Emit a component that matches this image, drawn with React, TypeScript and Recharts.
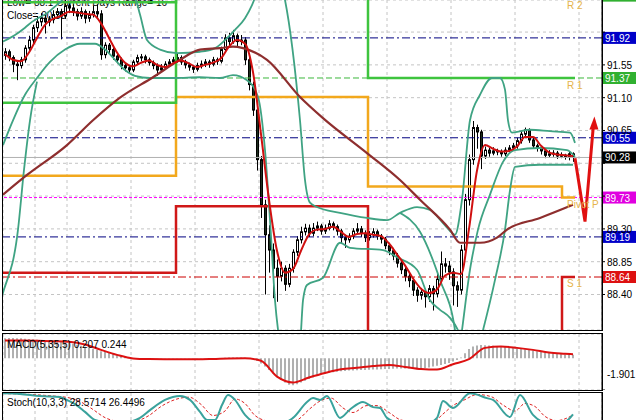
import React from "react";
import {
  ComposedChart,
  Bar,
  Line,
  XAxis,
  YAxis,
  CartesianGrid,
  ReferenceLine,
  ReferenceDot,
} from "recharts";

const FONT = "'Liberation Sans', Arial, sans-serif";

// ---- price bars (bar 0 = oldest), open of each bar is the previous close
const firstOpen = 91.68;
const closes = [
  91.73, 91.65, 91.56, 91.54, 91.62, 91.78, 91.89, 92.06, 92.14, 92.19,
  92.14, 92.17, 92.24, 92.28, 92.22, 92.36, 92.33, 92.28, 92.22, 92.28,
  92.19, 92.24, 92.28, 92.25, 91.69, 91.82, 91.76, 91.67, 91.62, 91.54,
  91.51, 91.48, 91.59, 91.65, 91.66, 91.62, 91.58, 91.54, 91.48, 91.51,
  91.56, 91.59, 91.62, 91.65, 91.59, 91.55, 91.52, 91.49, 91.54, 91.56,
  91.59, 91.56, 91.62, 91.6, 91.76, 91.92, 91.87, 91.95, 91.87, 91.89,
  91.62, 91.28, 90.93, 90.25, 89.63, 89.22, 89.01, 88.76, 88.65, 88.76,
  88.54, 88.76, 88.98, 89.15, 89.26, 89.31, 89.24, 89.31, 89.34, 89.27,
  89.31, 89.37, 89.33, 89.27, 89.18, 89.15, 89.2, 89.27, 89.3, 89.24,
  89.18, 89.22, 89.26, 89.2, 89.16, 89.07, 89.0, 88.93, 88.83, 88.74,
  88.65, 88.59, 88.46, 88.39, 88.43, 88.37, 88.48, 88.41, 88.61, 88.82,
  88.79, 88.71, 88.52, 88.46, 89.01, 89.7, 90.25, 90.69, 90.63, 90.3,
  90.38, 90.34, 90.37, 90.36, 90.33, 90.38, 90.41, 90.44, 90.51, 90.6,
  90.66, 90.52, 90.44, 90.41, 90.37, 90.31, 90.33, 90.34, 90.3, 90.31,
  90.29, 90.33, 90.28,
];
const highs = [
  91.78, 91.76, 91.68, 91.6, 91.66, 91.82, 91.95, 92.1, 92.22, 92.26,
  92.24, 92.22, 92.3, 92.33, 92.32, 92.44, 92.42, 92.38, 92.32, 92.34,
  92.31, 92.29, 92.36, 92.38, 92.3, 91.86, 91.85, 91.79, 91.71, 91.65,
  91.58, 91.55, 91.62, 91.69, 91.7, 91.69, 91.65, 91.61, 91.57, 91.56,
  91.6, 91.63, 91.66, 91.7, 91.68, 91.62, 91.58, 91.55, 91.58, 91.61,
  91.63, 91.62, 91.66, 91.65, 91.8, 91.97, 91.99, 92.03, 91.98, 91.96,
  91.93, 91.66, 91.32, 90.98, 90.3, 89.7, 89.35, 89.1, 88.88, 88.85,
  88.8, 88.82, 89.02, 89.2, 89.33, 89.37, 89.36, 89.38, 89.4, 89.37,
  89.36, 89.42, 89.4, 89.36, 89.3, 89.22, 89.24, 89.31, 89.38, 89.34,
  89.28, 89.27, 89.31, 89.29, 89.23, 89.19, 89.11, 89.04, 88.97, 88.88,
  88.79, 88.7, 88.63, 88.5, 88.49, 88.47, 88.53, 88.52, 88.68, 88.99,
  88.9, 88.86, 88.76, 88.58, 89.08, 89.78, 90.32, 90.78, 90.73, 90.66,
  90.43, 90.41, 90.42, 90.4, 90.39, 90.42, 90.45, 90.48, 90.55, 90.64,
  90.69, 90.68, 90.55, 90.47, 90.44, 90.41, 90.38, 90.38, 90.37, 90.35,
  90.33, 90.36, 90.35,
];
const lows = [
  91.62, 91.6, 91.45, 91.34, 91.5, 91.58, 91.74, 91.85, 92.0, 92.08,
  91.98, 92.08, 92.12, 92.2, 91.9, 92.18, 92.26, 92.22, 92.16, 92.18,
  92.12, 92.14, 92.2, 92.18, 91.62, 91.64, 91.7, 91.62, 91.57, 91.49,
  91.46, 91.44, 91.45, 91.55, 91.6, 91.57, 91.54, 91.49, 91.4, 91.45,
  91.48, 91.53, 91.56, 91.58, 91.55, 91.5, 91.47, 91.44, 91.46, 91.5,
  91.52, 91.51, 91.53, 91.55, 91.57, 91.73, 91.82, 91.84, 91.8, 91.82,
  91.55, 91.2, 90.85, 90.1, 89.45, 88.4, 88.7, 88.35, 88.3, 88.58,
  88.45, 88.5, 88.7, 88.93, 89.1, 89.21, 89.19, 89.2, 89.27, 89.22,
  89.23, 89.28, 89.28, 89.21, 89.1, 89.04, 89.11, 89.16, 89.24, 89.19,
  89.12, 89.14, 89.18, 89.15, 89.1, 89.02, 88.94, 88.87, 88.77, 88.68,
  88.58, 88.5, 88.38, 88.3, 88.33, 88.22, 88.3, 88.18, 88.36, 88.55,
  88.7, 88.6, 88.25, 88.23, 88.4, 88.95, 89.62, 90.18, 90.4, 90.12,
  90.26, 90.29, 90.31, 90.31, 90.29, 90.3, 90.35, 90.38, 90.4, 90.47,
  90.55, 90.48, 90.4, 90.36, 90.32, 90.27, 90.28, 90.29, 90.26, 90.27,
  90.25, 90.24, 90.22,
];

// short moving average, one value every 2 bars
const redMa = [
  91.7, 91.62, 91.6, 91.72, 91.92, 92.1, 92.18, 92.22, 92.28, 92.27,
  92.25, 92.24, 92.12, 91.92, 91.72, 91.58, 91.53, 91.58, 91.61, 91.55,
  91.52, 91.57, 91.61, 91.57, 91.52, 91.55, 91.58, 91.64, 91.8, 91.89,
  91.84, 91.45, 90.6, 89.7, 89.0, 88.7, 88.75, 89.0, 89.22, 89.29,
  89.3, 89.33, 89.26, 89.19, 89.23, 89.24, 89.22, 89.2, 89.1, 88.95,
  88.8, 88.62, 88.48, 88.42, 88.47, 88.66, 88.7, 88.68, 89.3, 90.1,
  90.45, 90.4, 90.36, 90.37, 90.43, 90.56, 90.56, 90.44, 90.35, 90.32,
  90.31, 90.3,
];

// band curves, [bar, price]
const bandUpper = [
  [-0.5, 91.87], [2.5, 91.96], [5, 92.06], [6.75, 92.14], [10.5, 92.26],
  [13.75, 92.41], [17.5, 92.58], [23.75, 92.65], [30, 92.58], [32.5, 92.47],
  [33.75, 92.24], [35.5, 91.89], [38.75, 91.76], [43, 91.71], [48.75, 91.73],
  [52.5, 91.78], [55, 91.89], [57.5, 92.03], [60, 92.19], [61.75, 92.37],
  [63.25, 92.58], [66.25, 93.0], [68.75, 92.72], [70, 92.44], [73.75, 90.79],
  [75, 89.97], [76.25, 89.66], [78, 89.6], [83.75, 89.52], [90.5, 89.45],
  [95.5, 89.42], [98.75, 89.52], [103, 89.6], [106.25, 89.56], [110, 89.35],
  [112.5, 89.22], [114.25, 89.7], [116.25, 90.79], [118.75, 91.14],
  [121.75, 91.37], [123.75, 91.37], [125, 91.21], [125.75, 90.79],
  [126.75, 90.62], [131.25, 90.66], [136.25, 90.64], [141.25, 90.62],
  [142.5, 90.48],
];
const bandLower = [
  [-0.5, 90.45], [2, 90.79], [5, 91.14], [8, 91.37], [11.25, 91.59],
  [15, 91.76], [18.75, 91.84], [22.5, 91.84], [25, 91.76], [27.5, 91.62],
  [30, 91.48], [32.5, 91.4], [36.25, 91.37], [42.5, 91.37], [48.75, 91.38],
  [53.75, 91.37], [57, 91.41], [60.5, 91.34], [63.25, 91.11], [65, 90.38],
  [66.25, 89.42], [67.5, 88.32], [68.75, 87.71], [71.25, 87.23],
  [73.75, 87.71], [74.5, 88.32], [75.5, 88.53], [79.5, 88.63], [83.75, 89.11],
  [86.25, 89.04], [94.5, 89.01], [98, 88.91], [103, 88.74], [106.25, 88.32],
  [108.75, 88.19], [111.25, 88.08], [113.25, 87.91], [115, 87.64],
  [117.5, 87.5], [119.5, 87.91], [122.5, 88.6], [125, 89.29], [126.25, 89.83],
  [127.5, 90.15], [133.75, 90.18], [142, 90.18],
];
const bandOuterLeft = [
  [-2.5, 87.91], [-1.25, 88.26], [3.25, 89.29], [4.75, 90.11], [6.25, 90.79],
  [8, 91.32],
];
const bandOuterRight = [
  [98.75, 89.52], [103.75, 89.26], [108.75, 88.6], [112.5, 87.91],
  [113.25, 87.5], [114.25, 87.91], [116.25, 88.74], [118.25, 89.29],
  [121.25, 89.77], [124.5, 90.22], [127.5, 90.38], [133.75, 90.41],
  [140.5, 90.38], [142.5, 90.29],
];

// long moving average, [bar, price]
const longMa = [
  [-0.5, 89.77], [5.5, 90.04], [15.5, 90.45], [22, 90.79], [28.75, 91.1],
  [37, 91.38], [43.75, 91.62], [48.75, 91.76], [53.75, 91.78], [57, 91.8],
  [59.5, 91.78], [65.5, 91.62], [73.75, 91.11], [79.5, 90.82], [90.5, 90.34],
  [98.75, 89.97], [103.75, 89.7], [111.25, 89.29], [113.75, 89.11],
  [118.75, 89.11], [123, 89.18], [125.5, 89.29], [133.75, 89.45], [142, 89.63],
];

// daily pivot levels
const dayStarts = [-0.5, 42.75, 90.75, 139.25];
const lastBar = 142.5;
const pivotP = [90.03, 91.11, 89.88, 89.73];
const pivotR1 = [91.03, 92.8, 91.37, 91.37];
const pivotR2 = [92.41, 93.4, 92.5, 92.5];
const pivotS1 = [88.7, 89.61, 87.4, 88.64];

// horizontal levels with price boxes
const levelPrices = [91.92, 91.37, 90.55, 90.28, 89.73, 89.19, 88.64];
const priceTicks = [87.95, 88.4, 88.85, 89.3, 89.75, 90.2, 90.65, 91.1, 91.55, 92.0];
const gridBars = [
  7.5, 15.5, 23.5, 31.5, 39.5, 47.5, 55.5, 63.5, 71.5, 79.5, 87.5, 95.5,
  103.5, 111.5, 119.5, 127.5, 135.5, 143.5,
];

// projected path
const forecast = [[142.5, 90.27], [145, 89.4], [147.1, 90.72]];

// MACD(5,35,5)
const macdHist = [
  1.2, 1.21, 1.21, 1.2, 1.19, 1.17, 1.15, 1.13, 1.11, 1.09,
  1.07, 1.05, 1.03, 1.01, 0.98, 0.95, 0.91, 0.86, 0.81, 0.75,
  0.69, 0.63, 0.57, 0.51, 0.42, 0.37, 0.31, 0.25, 0.19, 0.13,
  0.08, 0.04, 0.02, 0.01, 0.01, 0.0, 0.0, -0.01, -0.01, -0.01,
  -0.01, -0.02, -0.02, -0.01, -0.01, -0.01, -0.02, -0.02, -0.02, -0.01,
  -0.01, 0.0, 0.0, 0.01, 0.02, 0.03, 0.04, 0.04, 0.05, 0.04,
  0.03, 0.01, -0.05, -0.16, -0.32, -0.5, -0.7, -0.92, -1.12, -1.3,
  -1.45, -1.58, -1.62, -1.55, -1.45, -1.35, -1.25, -1.15, -1.05, -0.97,
  -0.92, -0.88, -0.84, -0.81, -0.78, -0.76, -0.74, -0.73, -0.72, -0.71,
  -0.7, -0.69, -0.68, -0.67, -0.66, -0.65, -0.64, -0.63, -0.62, -0.62,
  -0.61, -0.61, -0.61, -0.6, -0.6, -0.58, -0.55, -0.5, -0.45, -0.4,
  -0.34, -0.28, -0.2, -0.1, 0.05, 0.3, 0.55, 0.7, 0.76, 0.79,
  0.78, 0.76, 0.74, 0.72, 0.7, 0.68, 0.65, 0.62, 0.59, 0.56,
  0.53, 0.5, 0.46, 0.42, 0.38, 0.35, 0.32, 0.29, 0.27, 0.25,
  0.23, 0.22, 0.21,
];
const macdSignal = [
  [0, 1.06], [4, 1.06], [8, 1.05], [12, 1.02], [16, 0.98], [20, 0.82],
  [24, 0.5], [28, 0.2], [32, -0.01], [36, -0.05], [40, -0.06], [44, -0.06],
  [48, -0.06], [52, -0.04], [56, -0.01], [60, 0.0], [64, -0.15], [68, -1.1],
  [72, -1.45], [76, -1.15], [80, -0.88], [84, -0.66], [88, -0.57], [92, -0.47],
  [96, -0.4], [100, -0.52], [104, -0.65], [108, -0.68], [112, -0.36],
  [116, -0.05], [120, 0.62], [124, 0.7], [128, 0.62], [132, 0.5], [136, 0.34],
  [140, 0.27], [142, 0.24],
];
const macdTicks = [1.45, 0, -1.901];

// Stochastic(10,3,3), [bar, value]
const stochMain = [
  [-0.5, 99], [3.75, 97], [8.75, 90], [13.75, 87], [15, 80], [17.5, 63],
  [20, 37], [22.5, 10], [26.25, 2], [31.25, 5], [33.75, 17], [36.25, 43],
  [40, 77], [43.75, 90], [46.25, 77], [48.75, 37], [50.5, 10], [52.5, 10],
  [54.25, 60], [55.75, 93], [57.5, 77], [60, 27], [62.5, 3], [70, 3], [72, 17],
  [75.5, 70], [77, 83], [78.75, 77], [80.5, 90], [83.75, 17], [86.25, 45],
  [89.5, 70], [92, 53], [93.75, 50], [95.5, 17], [98.25, 3], [106.25, 3],
  [108, 17], [109.5, 73], [112, 50], [116.25, 99], [120.5, 83], [122, 77],
  [126.25, 20], [128.75, 93], [132, 27], [135, 3], [140, 5], [142, 28.57],
];
const stochSignal = [
  [-0.5, 98], [5, 96], [11, 91], [16, 84], [19, 70], [22, 45], [25, 18],
  [29, 5], [33, 8], [36, 25], [39, 55], [43, 80], [46, 86], [49, 62], [52, 25],
  [55, 40], [57.5, 80], [60, 65], [62.5, 25], [66, 6], [70, 3], [73, 10],
  [76, 45], [79, 75], [81.5, 83], [84.5, 50], [87, 35], [90.5, 58], [93, 58],
  [96, 35], [99, 10], [103, 3], [107, 4], [109.5, 30], [112, 58], [115, 78],
  [118, 95], [121.5, 88], [124.5, 60], [127.5, 40], [130, 65], [132.5, 55],
  [135, 22], [138, 8], [142, 26.45],
];
const stochTicks = [100, 80];

// ---- tables for the library
const candles = closes.map((c, i) => ({
  i,
  o: i === 0 ? firstOpen : closes[i - 1],
  h: highs[i],
  l: lows[i],
  c,
}));
const rows = (pts: number[][]) => pts.map(([i, v]) => ({ i, v }));
const redMaRows = redMa.map((v, k) => ({ i: k * 2, v }));
const stepRows = (levels: number[]) =>
  levels.flatMap((v, d) => [
    { i: dayStarts[d], v },
    { i: d + 1 < dayStarts.length ? dayStarts[d + 1] : lastBar, v },
  ]);
const macdRows = macdHist.map((h, i) => ({ i, h }));

const X_DOMAIN: [number, number] = [-0.5, 149.25];
const TEAL = "#3fa383";

const levelStyle = [
  { stroke: "#000080", dash: "8 3 2 3", box: "#0000c8" },
  { stroke: "#3cb83c", dash: "6 3", box: "#30b030" },
  { stroke: "#000080", dash: "8 3 2 3", box: "#0000c8" },
  { stroke: "#b0b0b0", dash: undefined, box: "#000000" },
  { stroke: "#ff00ff", dash: "3 2", box: "#e000e0" },
  { stroke: "#000080", dash: "8 3 2 3", box: "#0000c8" },
  { stroke: "#cc0000", dash: "8 3 2 3", box: "#dd1010" },
];

const Candle = (props: any) => {
  const { x, y, width, height, payload } = props;
  if (!payload || x == null) return <g />;
  const { o, h, l, c } = payload;
  const top = Math.min(y, y + height);
  const span = Math.abs(height);
  const k = h > l ? span / (h - l) : 0;
  const cx = Math.round(x + width / 2) + 0.5;
  const yO = top + (h - o) * k;
  const yC = top + (h - c) * k;
  const bTop = Math.min(yO, yC);
  const bH = Math.max(Math.abs(yC - yO), 1);
  const up = c >= o;
  return (
    <g>
      <line x1={cx} x2={cx} y1={top} y2={top + span} stroke="#000" strokeWidth={1} />
      <rect
        x={cx - 1}
        y={bTop}
        width={2}
        height={bH}
        fill={up ? "#ffffff" : "#1c2e1c"}
        stroke="#000"
        strokeWidth={1}
      />
    </g>
  );
};

const PriceBox = (props: any) => {
  const { viewBox, price, bg } = props;
  if (!viewBox) return null;
  const x = viewBox.x + viewBox.width + 1;
  const y = viewBox.y;
  return (
    <g>
      <rect x={x} y={y - 6} width={33} height={12} fill={bg} />
      <text x={x + 2} y={y + 4} fill="#fff" fontSize={10} fontFamily={FONT}>
        {price.toFixed(2)}
      </text>
    </g>
  );
};

const PivotName = (props: any) => {
  const { viewBox, text, dy } = props;
  if (!viewBox) return null;
  return (
    <text x={viewBox.x} y={viewBox.y + dy} fill="#e6b44a" fontSize={10} fontFamily={FONT}>
      {text}
    </text>
  );
};

const ArrowHead = (props: any) => {
  const { cx, cy, index } = props;
  if (index !== forecast.length - 1 || cx == null) return <g key={`f${index}`} />;
  return (
    <polygon
      key="head"
      points={`${cx + 1},${cy - 9} ${cx - 4},${cy + 4} ${cx + 5},${cy + 4}`}
      fill="#e01010"
    />
  );
};

const PriceTick = (props: any) => {
  const { x, y, payload } = props;
  const v = payload.value;
  if (levelPrices.some((l) => Math.abs(l - v) < 0.09)) return <g />;
  return (
    <text x={x} y={y + 4} fontSize={10} fontFamily={FONT} fill="#000">
      {v.toFixed(2)}
    </text>
  );
};

const MacdTick = (props: any) => {
  const { x, y, payload } = props;
  const v = payload.value;
  const dy = v > 1 ? 10 : v < -1 ? -3 : 4;
  return (
    <text x={x} y={y + dy} fontSize={10} fontFamily={FONT} fill="#000">
      {v === 0 ? "0.00" : String(v)}
    </text>
  );
};

const StochTick = (props: any) => {
  const { x, y, payload } = props;
  const dy = payload.value === 100 ? 10 : 4;
  return (
    <text x={x} y={y + dy} fontSize={10} fontFamily={FONT} fill="#000">
      {payload.value}
    </text>
  );
};

const band = (pts: number[][], key: string) => (
  <Line
    key={key}
    data={rows(pts)}
    dataKey="v"
    type="monotone"
    stroke={TEAL}
    strokeWidth={1.8}
    dot={false}
    activeDot={false}
    isAnimationActive={false}
  />
);

const pivotLine = (levels: number[], color: string, key: string) => (
  <Line
    key={key}
    data={stepRows(levels)}
    dataKey="v"
    type="linear"
    stroke={color}
    strokeWidth={2.5}
    dot={false}
    activeDot={false}
    isAnimationActive={false}
  />
);

const frame = (top: number, height: number): React.CSSProperties => ({
  position: "absolute",
  left: 2,
  top,
  width: 601,
  height,
  border: "1px solid #000",
  boxSizing: "border-box",
  pointerEvents: "none",
});

export default function App() {
  return (
    <div
      style={{
        position: "relative",
        width: 640,
        height: 420,
        overflow: "hidden",
        background: "#fff",
        fontFamily: FONT,
      }}
    >
      <style>{"body{margin:0}"}</style>

      {/* info text sits under the candles */}
      <svg width={640} height={40} style={{ position: "absolute", left: 0, top: 0 }}>
        <text x={7} y={6} fontSize={10} fontFamily={FONT} fill="#000">
          Low= 88.1 Current Days Range= 16
        </text>
        <text x={7} y={19} fontSize={10} fontFamily={FONT} fill="#000">
          Close= 90.33
        </text>
      </svg>

      {/* main price panel */}
      <div style={{ position: "absolute", left: 0, top: 0 }}>
        <ComposedChart
          width={640}
          height={330}
          data={candles}
          margin={{ top: 0, right: 0, bottom: 0, left: 3 }}
        >
          <CartesianGrid stroke="#c4c4c4" strokeDasharray="3 3" />
          <XAxis
            type="number"
            dataKey="i"
            domain={X_DOMAIN}
            ticks={gridBars}
            allowDataOverflow
            hide
          />
          <YAxis
            orientation="right"
            type="number"
            domain={[87.913, 92.44]}
            ticks={priceTicks}
            allowDataOverflow
            width={38}
            tickSize={3}
            tickMargin={2}
            stroke="#000"
            tick={<PriceTick />}
          />
          {levelPrices.map((p, k) => (
            <ReferenceLine
              key={`lv${k}`}
              y={p}
              stroke={levelStyle[k].stroke}
              strokeDasharray={levelStyle[k].dash}
              strokeWidth={1}
              label={<PriceBox price={p} bg={levelStyle[k].box} />}
            />
          ))}
          <ReferenceLine
            y={pivotR2[3]}
            stroke="none"
            ifOverflow="visible"
            label={<PriceBox price={pivotR2[3]} bg="#30b030" />}
          />
          {pivotLine(pivotP, "#f2a81d", "pp")}
          {pivotLine(pivotR1, "#3ec43e", "r1")}
          {pivotLine(pivotR2, "#3ec43e", "r2")}
          {pivotLine(pivotS1, "#d01818", "s1")}
          {band(bandOuterLeft, "bo1")}
          {band(bandOuterRight, "bo2")}
          {band(bandUpper, "bu")}
          {band(bandLower, "bl")}
          <Line
            data={rows(longMa)}
            dataKey="v"
            type="monotone"
            stroke="#8e2e2e"
            strokeWidth={2.2}
            dot={false}
            activeDot={false}
            isAnimationActive={false}
          />
          <Bar
            dataKey={(d: any) => [d.l, d.h]}
            barSize={3}
            shape={(p: any) => <Candle {...p} />}
            isAnimationActive={false}
          />
          <Line
            data={redMaRows}
            dataKey="v"
            type="monotone"
            stroke="#d01010"
            strokeWidth={2}
            dot={false}
            activeDot={false}
            isAnimationActive={false}
          />
          <Line
            data={rows(forecast)}
            dataKey="v"
            type="linear"
            stroke="#e01010"
            strokeWidth={3}
            dot={(p: any) => <ArrowHead key={`a${p.index}`} {...p} />}
            activeDot={false}
            isAnimationActive={false}
          />
          <ReferenceDot
            x={140.5}
            y={pivotR2[3]}
            r={0}
            ifOverflow="visible"
            label={<PivotName text="R 2" dy={13} />}
          />
          <ReferenceDot x={140.5} y={pivotR1[3]} r={0} label={<PivotName text="R 1" dy={11} />} />
          <ReferenceDot x={140.5} y={pivotP[3]} r={0} label={<PivotName text="Pivot P" dy={10} />} />
          <ReferenceDot x={140.5} y={pivotS1[3]} r={0} label={<PivotName text="S 1" dy={10} />} />
        </ComposedChart>
      </div>

      {/* MACD panel */}
      <div style={{ position: "absolute", left: 0, top: 334 }}>
        <ComposedChart
          width={640}
          height={56}
          data={macdRows}
          margin={{ top: 0, right: 0, bottom: 0, left: 3 }}
        >
          <CartesianGrid stroke="#c4c4c4" strokeDasharray="3 3" />
          <XAxis
            type="number"
            dataKey="i"
            domain={X_DOMAIN}
            ticks={gridBars}
            allowDataOverflow
            hide
          />
          <YAxis
            orientation="right"
            type="number"
            domain={[-1.901, 1.45]}
            ticks={macdTicks}
            allowDataOverflow
            width={38}
            tickSize={3}
            tickMargin={2}
            stroke="#000"
            tick={<MacdTick />}
          />
          <Bar dataKey="h" barSize={2} fill="#b0b0b0" isAnimationActive={false} />
          <Line
            data={rows(macdSignal)}
            dataKey="v"
            type="monotone"
            stroke="#dd1111"
            strokeWidth={2}
            dot={false}
            activeDot={false}
            isAnimationActive={false}
          />
        </ComposedChart>
      </div>

      {/* Stochastic panel */}
      <div style={{ position: "absolute", left: 0, top: 393 }}>
        <ComposedChart width={640} height={30} margin={{ top: 0, right: 0, bottom: 0, left: 3 }}>
          <CartesianGrid stroke="#c4c4c4" strokeDasharray="3 3" horizontal={false} />
          <XAxis
            type="number"
            dataKey="i"
            domain={X_DOMAIN}
            ticks={gridBars}
            allowDataOverflow
            hide
          />
          <YAxis
            orientation="right"
            type="number"
            domain={[0, 100]}
            ticks={stochTicks}
            allowDataOverflow
            width={38}
            tickSize={3}
            tickMargin={2}
            stroke="#000"
            tick={<StochTick />}
          />
          <Line
            data={rows(stochSignal)}
            dataKey="v"
            type="monotone"
            stroke="#dd2222"
            strokeWidth={1}
            strokeDasharray="3 2"
            dot={false}
            activeDot={false}
            isAnimationActive={false}
          />
          <Line
            data={rows(stochMain)}
            dataKey="v"
            type="monotone"
            stroke="#3aa29c"
            strokeWidth={2}
            dot={false}
            activeDot={false}
            isAnimationActive={false}
          />
        </ComposedChart>
      </div>

      {/* panel frames and indicator captions */}
      <div style={frame(-1, 332)} />
      <div style={frame(333, 58)} />
      <div style={frame(392, 40)} />
      <svg
        width={640}
        height={420}
        style={{ position: "absolute", left: 0, top: 0, pointerEvents: "none" }}
      >
        <text x={7} y={348} fontSize={10} fontFamily={FONT} fill="#000">
          MACD(5,35,5) 0.207 0.244
        </text>
        <text x={7} y={406} fontSize={10} fontFamily={FONT} fill="#000">
          Stoch(10,3,3) 28.5714 26.4496
        </text>
      </svg>
    </div>
  );
}
